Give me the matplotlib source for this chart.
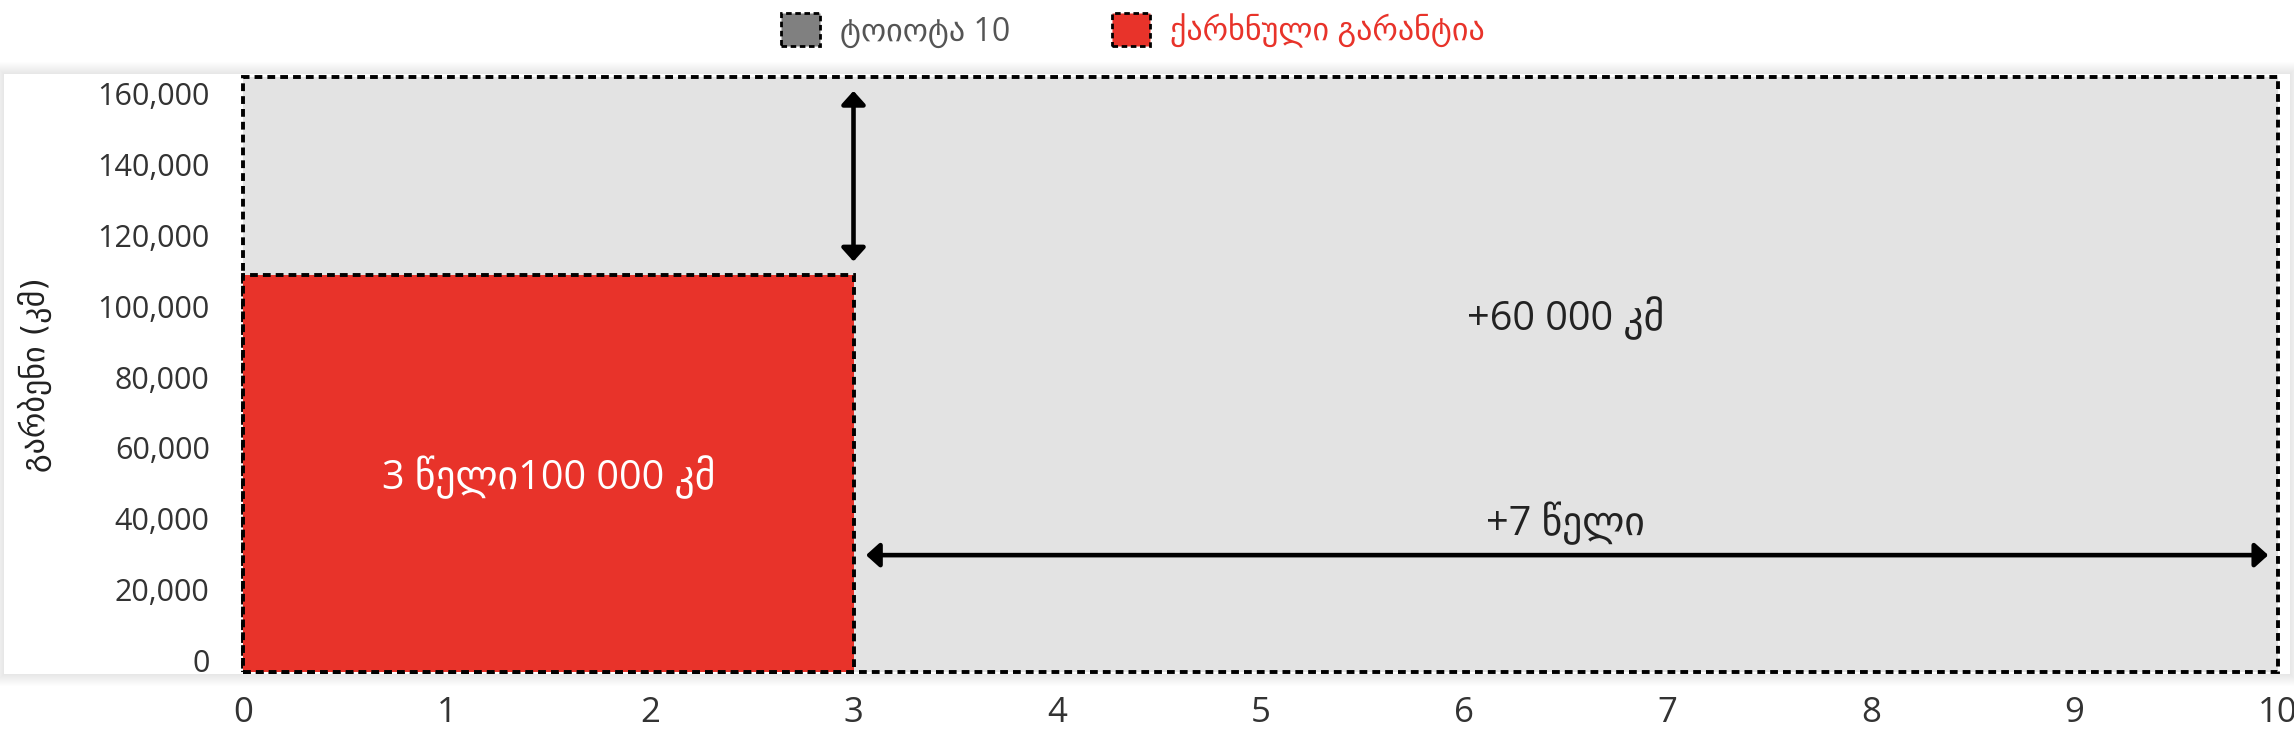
import matplotlib
matplotlib.use("Agg")
import matplotlib.pyplot as plt
from matplotlib.patches import Rectangle, Patch
from matplotlib.ticker import FuncFormatter

# ---------------- data ----------------
x_ticks = [0, 1, 2, 3, 4, 5, 6, 7, 8, 9, 10]
y_ticks = [0, 20000, 40000, 60000, 80000, 100000, 120000, 140000, 160000]
series_names = ["ტოიოტა 10", "ქარხნული გარანტია"]
series_years = [10, 3]            # width of each block (years)
series_km = [168000, 112000]      # height of each block (km, as drawn)
series_colors = ["#e3e3e3", "#e8332a"]
legend_colors = ["#808080", "#e8332a"]
legend_text_colors = ["#555555", "#e8332a"]
arrow_km_y = 33000                # height of the horizontal "+7 years" arrow
label_inside = "3 წელი100 000 კმ"
label_km = "+60 000 კმ"
label_years = "+7 წელი"
y_title = "გარბენი (კმ)"

FAM = ["Open Sans", "DejaVu Sans"]
plt.rcParams["font.family"] = FAM

W, H = 2294, 738
fig = plt.figure(figsize=(W / 100, H / 100), dpi=100)
fig.patch.set_facecolor("white")

# card with soft shadow
cx0, cy0, cx1, cy1 = 4, 74, 2290, 674
for i in range(12, 0, -1):
    fig.add_artist(Rectangle(((cx0 - i) / W, 1 - (cy1 + i) / H),
                             (cx1 - cx0 + 2 * i) / W, (cy1 - cy0 + 2 * i) / H,
                             transform=fig.transFigure, facecolor="black",
                             edgecolor="none", alpha=0.006, zorder=-5))
fig.add_artist(Rectangle((cx0 / W, 1 - cy1 / H), (cx1 - cx0) / W, (cy1 - cy0) / H,
                         transform=fig.transFigure, facecolor="white",
                         edgecolor="none", zorder=-4))

ax_l, ax_r, ax_t, ax_b = 243, 2278, 77, 672
ax = fig.add_axes([ax_l / W, 1 - ax_b / H, (ax_r - ax_l) / W, (ax_b - ax_t) / H])
ax.set_facecolor("none")
ax.set_xlim(0, series_years[0])
ax.set_ylim(0, series_km[0])
for s in ax.spines.values():
    s.set_visible(False)

dash = (0, (2.0, 1.3))
for yrs, km, col in zip(series_years, series_km, series_colors):
    ax.add_patch(Rectangle((0, 0), yrs, km, facecolor=col, edgecolor="black",
                           linewidth=2.8, linestyle=dash, clip_on=False, zorder=2))

ax.set_xticks(x_ticks)
ax.set_yticks(y_ticks)
ax.yaxis.set_major_formatter(FuncFormatter(lambda v, p: f"{v:,.0f}"))
ax.tick_params(axis="both", length=0)
ax.tick_params(axis="x", labelsize=25, pad=17, colors="#333333")
ax.tick_params(axis="y", labelsize=22, pad=24, colors="#333333")
for lab in ax.get_yticklabels():
    lab.set_verticalalignment("baseline")

ax.set_ylabel(y_title, fontsize=23, color="#222222", family=["DejaVu Sans"])
ax.yaxis.set_label_coords(-0.094, 0.5)

# annotations
ax.text(series_years[1] / 2, series_km[1] * 0.49, label_inside, color="white",
        fontsize=28.5, ha="center", va="center", zorder=5, family=FAM)
ax.text((series_years[0] + series_years[1]) / 2, 100000, label_km, color="#222222",
        fontsize=28.5, ha="center", va="center", zorder=5, family=FAM)
ax.text((series_years[0] + series_years[1]) / 2, 41800, label_years, color="#222222",
        fontsize=28.5, ha="center", va="center", zorder=5, family=FAM)

arrow_style = "<|-|>,head_length=0.4,head_width=0.36"
ax.annotate("", xy=(series_years[1], series_km[0]), xytext=(series_years[1], series_km[1]),
            arrowprops=dict(arrowstyle=arrow_style, mutation_scale=20, lw=3.3,
                            color="black", shrinkA=10, shrinkB=10), zorder=6)
ax.annotate("", xy=(series_years[1], arrow_km_y), xytext=(series_years[0], arrow_km_y),
            arrowprops=dict(arrowstyle=arrow_style, mutation_scale=20, lw=3.3,
                            color="black", shrinkA=7, shrinkB=9), zorder=6)

handles = [Patch(facecolor=c, edgecolor="black", linewidth=2, linestyle=(0, (2, 1.3)))
           for c in legend_colors]
leg = fig.legend(handles, series_names, loc="center", bbox_to_anchor=(0.494, 1 - 31 / H),
                 ncol=2, frameon=False, fontsize=23, handlelength=1.2, handleheight=1.2,
                 handletextpad=0.62, columnspacing=3.2, borderpad=0)
for t, c in zip(leg.get_texts(), legend_text_colors):
    t.set_color(c)

fig.savefig("out.png", dpi=100, facecolor="white")
